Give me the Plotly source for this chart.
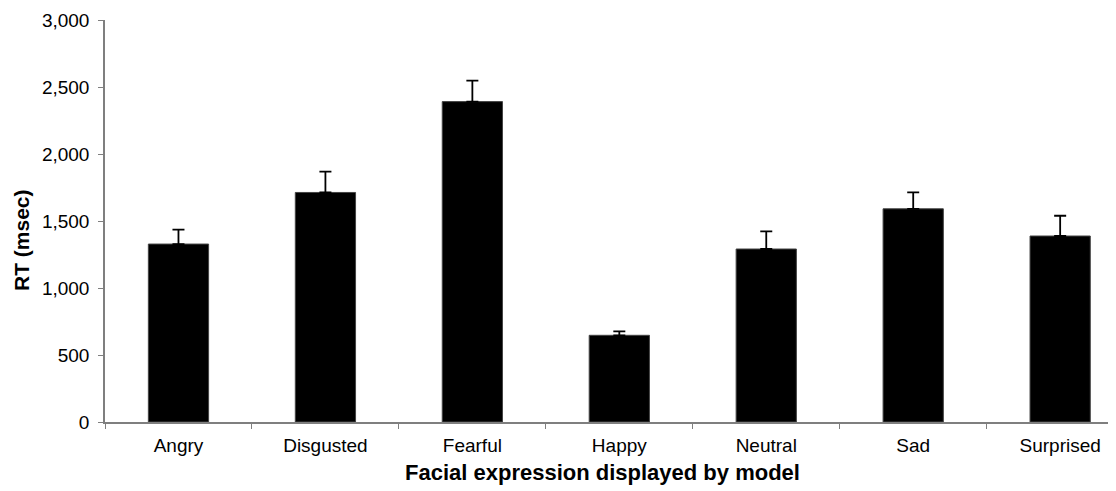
import plotly.graph_objects as go

categories = ["Angry", "Disgusted", "Fearful", "Happy", "Neutral", "Sad", "Surprised"]
rt_means = [1328, 1713, 2391, 647, 1291, 1591, 1388]
rt_err_upper = [107, 156, 157, 30, 131, 122, 151]
y_ticks = [0, 500, 1000, 1500, 2000, 2500, 3000]
y_tick_labels = ["0", "500", "1,000", "1,500", "2,000", "2,500", "3,000"]
x_title = "Facial expression displayed by model"
y_title = "RT (msec)"

FONT = "Liberation Sans, Arial, Helvetica, sans-serif"

fig = go.Figure()
fig.add_trace(go.Bar(
    x=categories,
    y=rt_means,
    width=0.41,
    marker=dict(color="black", line=dict(color="#444", width=1)),
    error_y=dict(type="data", symmetric=False, array=rt_err_upper,
                 arrayminus=[0] * len(rt_err_upper),
                 color="black", thickness=1.8, width=6),
))

fig.update_layout(
    width=1108, height=483,
    margin=dict(l=97, r=0, t=12, b=69),
    paper_bgcolor="white", plot_bgcolor="white",
    showlegend=False,
    font=dict(family=FONT, color="black", size=19),
    xaxis=dict(
        range=[-0.5, 6.38],
        showline=True, linecolor="#7f7f7f", linewidth=1.5,
        ticks="outside", tickson="boundaries", ticklen=5, tickcolor="#7f7f7f",
        tickfont=dict(size=19, family=FONT), ticklabelstandoff=5,
        showgrid=False, zeroline=False,
    ),
    yaxis=dict(
        range=[0, 3000],
        tickvals=y_ticks, ticktext=y_tick_labels,
        showline=True, linecolor="#7f7f7f", linewidth=1.5,
        ticks="outside", ticklen=5, tickcolor="#7f7f7f",
        tickfont=dict(size=19, family=FONT), ticklabelstandoff=5,
        showgrid=False, zeroline=False,
    ),
    annotations=[
        dict(text=f"<b>{x_title}</b>", xref="paper", yref="paper",
             x=0.4916, y=-0.1244, xanchor="center", yanchor="middle",
             showarrow=False, font=dict(size=22, family=FONT, color="black")),
        dict(text=f"<b>{y_title}</b>", xref="paper", yref="paper",
             x=-0.082, y=0.453, xanchor="center", yanchor="middle", textangle=-90,
             showarrow=False, font=dict(size=21, family=FONT, color="black")),
    ],
)

fig.write_html("out.html")
